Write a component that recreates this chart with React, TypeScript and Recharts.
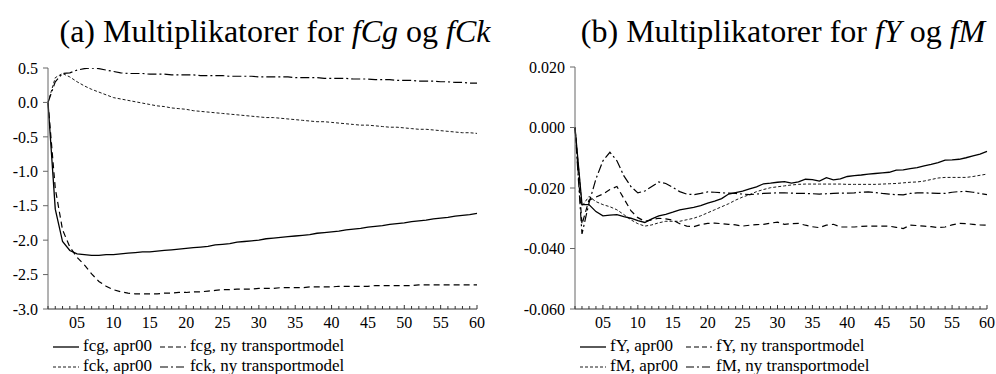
import { LineChart, Line, XAxis, YAxis } from 'recharts';

const periods = [
  1, 2, 3, 4, 5, 6, 7, 8, 9, 10, 11, 12, 13, 14, 15, 16, 17, 18, 19, 20,
  21, 22, 23, 24, 25, 26, 27, 28, 29, 30, 31, 32, 33, 34, 35, 36, 37, 38, 39, 40,
  41, 42, 43, 44, 45, 46, 47, 48, 49, 50, 51, 52, 53, 54, 55, 56, 57, 58, 59, 60,
];
const xTickLabels = ['05', '10', '15', '20', '25', '30', '35', '40', '45', '50', '55', '60'];
const leftTicks = [0.5, 0, -0.5, -1, -1.5, -2, -2.5, -3];
const rightTicks = [0.02, 0, -0.02, -0.04, -0.06];

// (a) fCg / fCk
const fcgApr = [
  0, -1.55, -2.02, -2.15, -2.2, -2.21, -2.22, -2.22, -2.21, -2.21,
  -2.2, -2.19, -2.18, -2.17, -2.17, -2.16, -2.15, -2.14, -2.13, -2.12,
  -2.11, -2.1, -2.09, -2.07, -2.06, -2.05, -2.03, -2.02, -2.01, -2.0,
  -1.98, -1.97, -1.96, -1.95, -1.94, -1.93, -1.92, -1.9, -1.89, -1.88,
  -1.87, -1.85, -1.84, -1.83, -1.81, -1.8, -1.79, -1.77, -1.76, -1.75,
  -1.73, -1.72, -1.71, -1.69, -1.68, -1.67, -1.65, -1.64, -1.63, -1.61,
];
const fcgNy = [
  0, -1.25, -1.85, -2.1, -2.25, -2.36, -2.49, -2.6, -2.67, -2.72,
  -2.75, -2.77, -2.78, -2.78, -2.78, -2.78, -2.77, -2.77, -2.76, -2.76,
  -2.75, -2.75, -2.74, -2.73, -2.72, -2.72, -2.71, -2.71, -2.71, -2.7,
  -2.7, -2.7, -2.69, -2.69, -2.69, -2.69, -2.68, -2.68, -2.68, -2.68,
  -2.67, -2.67, -2.67, -2.67, -2.67, -2.66, -2.66, -2.66, -2.66, -2.66,
  -2.66, -2.65, -2.65, -2.65, -2.65, -2.65, -2.65, -2.65, -2.65, -2.65,
];
const fckApr = [
  0, 0.36, 0.42, 0.37, 0.3, 0.24, 0.19, 0.15, 0.11, 0.07,
  0.05, 0.03, 0.01, -0.01, -0.03, -0.05, -0.06, -0.08, -0.09, -0.1,
  -0.12, -0.13, -0.14, -0.15, -0.16, -0.17, -0.18, -0.19, -0.2, -0.21,
  -0.22, -0.22, -0.23, -0.24, -0.25, -0.26, -0.27, -0.28, -0.28, -0.29,
  -0.3, -0.31, -0.32, -0.33, -0.33, -0.34, -0.35, -0.36, -0.36, -0.37,
  -0.38, -0.39, -0.39, -0.4, -0.41, -0.42, -0.43, -0.44, -0.44, -0.45,
];
const fckNy = [
  0, 0.3, 0.42, 0.43, 0.47, 0.49, 0.5, 0.49, 0.47, 0.45,
  0.43, 0.42, 0.42, 0.42, 0.41, 0.41, 0.41, 0.4, 0.4, 0.4,
  0.4, 0.39, 0.39, 0.39, 0.39, 0.38, 0.38, 0.38, 0.38, 0.37,
  0.37, 0.37, 0.37, 0.37, 0.36, 0.36, 0.36, 0.36, 0.35, 0.35,
  0.35, 0.35, 0.34, 0.34, 0.34, 0.33, 0.33, 0.33, 0.32, 0.32,
  0.32, 0.31, 0.31, 0.31, 0.3, 0.3, 0.29, 0.29, 0.28, 0.28,
];

// (b) fY / fM
const fYApr = [
  0, -0.0255, -0.0255, -0.0278, -0.0292, -0.029, -0.0288, -0.0295, -0.03, -0.0308,
  -0.0314, -0.0302, -0.0292, -0.0287, -0.028, -0.0272, -0.0268, -0.0264, -0.0258, -0.025,
  -0.0243, -0.0235, -0.022, -0.0215, -0.021, -0.0203, -0.0196, -0.0186, -0.0184, -0.0181,
  -0.0179, -0.0184, -0.018, -0.0171, -0.0172, -0.0177, -0.0166, -0.0173, -0.017, -0.0162,
  -0.0159, -0.0157, -0.0154, -0.0152, -0.015, -0.0148, -0.0141, -0.014, -0.0136, -0.0133,
  -0.0127, -0.0122, -0.0116, -0.0108, -0.0107, -0.0105, -0.01, -0.0094, -0.0088, -0.0079,
];
const fYNy = [
  0, -0.032, -0.024, -0.023, -0.022, -0.0205, -0.0195, -0.0235, -0.0275, -0.0298,
  -0.031, -0.0305, -0.03, -0.0302, -0.0306, -0.0318, -0.0326, -0.0328, -0.0321, -0.0317,
  -0.0316, -0.0318, -0.032, -0.0322, -0.0326, -0.0323, -0.0321, -0.032, -0.0316, -0.0313,
  -0.032, -0.0318, -0.0317, -0.0323, -0.0328, -0.0331, -0.0323, -0.032, -0.0329, -0.0329,
  -0.0329, -0.0327, -0.0326, -0.0326, -0.0326, -0.0326, -0.033, -0.0334, -0.0323, -0.0324,
  -0.0326, -0.0328, -0.0331, -0.0329, -0.0322, -0.0317, -0.0318, -0.032, -0.0322, -0.0323,
];
const fMApr = [
  0, -0.026, -0.0228, -0.0245, -0.0255, -0.0262, -0.0272, -0.0288, -0.0305, -0.0318,
  -0.0326, -0.0322, -0.0315, -0.031, -0.031, -0.031, -0.0305, -0.03, -0.0292, -0.0282,
  -0.0272, -0.0262, -0.0252, -0.024, -0.023, -0.0222, -0.0212, -0.0205, -0.0199, -0.0196,
  -0.0193, -0.019, -0.0188, -0.0187, -0.0187, -0.0187, -0.0187, -0.0187, -0.0187, -0.0188,
  -0.0188, -0.0188, -0.0188, -0.0188, -0.0187, -0.0186, -0.0185, -0.0183, -0.0181, -0.018,
  -0.0177, -0.0172, -0.0167, -0.0165, -0.0165, -0.0165, -0.0165, -0.0162, -0.0158, -0.0154,
];
const fMNy = [
  0, -0.0352, -0.025, -0.017, -0.011, -0.0082, -0.011, -0.016, -0.0195, -0.0216,
  -0.021, -0.0195, -0.018, -0.0185, -0.0198, -0.0212, -0.022, -0.0222, -0.0218, -0.0213,
  -0.0214, -0.0216, -0.0217, -0.0218, -0.022, -0.0222, -0.022, -0.0218, -0.0217, -0.0216,
  -0.0216, -0.0217, -0.0218, -0.0218, -0.0219, -0.022, -0.0219, -0.0218, -0.0217, -0.0217,
  -0.0216, -0.0214, -0.0213, -0.0215, -0.0218, -0.022, -0.0222, -0.0223, -0.0218, -0.0216,
  -0.0216, -0.0217, -0.0218, -0.0218, -0.0214, -0.0212, -0.0211, -0.0214, -0.0218, -0.0222,
];

const FONT = 'Liberation Serif';
const fontCss = '#root, #root * { font-family: "Liberation Serif" !important; }';

const lineStyles: Record<string, { dash?: string; width: number; legendDash?: string }> = {
  solid: { width: 1.3 },
  long: { dash: '6 4', width: 1.2, legendDash: '5 3' },
  short: { dash: '3 2', width: 0.9, legendDash: '3 2' },
  dashdot: { dash: '9 3 2 3', width: 1.2, legendDash: '8 3 2 3' },
};

const leftSeries = [
  { key: 'fcgApr', name: 'fcg, apr00', style: 'solid', values: fcgApr },
  { key: 'fcgNy', name: 'fcg, ny transportmodel', style: 'long', values: fcgNy },
  { key: 'fckApr', name: 'fck, apr00', style: 'short', values: fckApr },
  { key: 'fckNy', name: 'fck, ny transportmodel', style: 'dashdot', values: fckNy },
];
const rightSeries = [
  { key: 'fYApr', name: 'fY, apr00', style: 'solid', values: fYApr },
  { key: 'fYNy', name: 'fY, ny transportmodel', style: 'long', values: fYNy },
  { key: 'fMApr', name: 'fM, apr00', style: 'short', values: fMApr },
  { key: 'fMNy', name: 'fM, ny transportmodel', style: 'dashdot', values: fMNy },
];

function buildRows(series: typeof leftSeries) {
  return periods.map((p, i) => {
    const row: Record<string, number> = { p };
    series.forEach((s) => (row[s.key] = s.values[i]));
    return row;
  });
}

function PeriodTick(props: any) {
  const { x, y, payload } = props;
  const v = payload.value;
  const major = v % 5 === 0;
  return (
    <g>
      <line x1={x} x2={x} y1={y} y2={y - (major ? 4 : 3)} stroke="#333" strokeWidth={1} />
      {major && (
        <text x={x} y={y + 19} textAnchor="middle" fontSize={16} fontFamily={FONT} fill="#000">
          {xTickLabels[v / 5 - 1]}
        </text>
      )}
    </g>
  );
}

function Legend2({ series, left }: { series: typeof leftSeries; left: number }) {
  return (
    <div
      style={{
        position: 'absolute',
        left,
        top: 336,
        display: 'grid',
        gridTemplateColumns: 'auto auto',
        columnGap: 8,
        fontFamily: FONT,
        fontSize: 17,
        lineHeight: '20px',
        color: '#000',
        whiteSpace: 'nowrap',
      }}
    >
      {series.map((s) => {
        const st = lineStyles[s.style];
        return (
          <div key={s.key} style={{ display: 'flex', alignItems: 'center' }}>
            <svg width={26} height={20} style={{ marginRight: 4 }}>
              <line x1={0} x2={26} y1={11} y2={11} stroke="#000" strokeWidth={st.width} strokeDasharray={st.legendDash} />
            </svg>
            <span>{s.name}</span>
          </div>
        );
      })}
    </div>
  );
}

function Panel({
  series,
  ticks,
  domain,
  digits,
  yWidth,
  marginTop,
  marginRight,
}: {
  series: typeof leftSeries;
  ticks: number[];
  domain: [number, number];
  digits: number;
  yWidth: number;
  marginTop: number;
  marginRight: number;
}) {
  const rows = buildRows(series);
  return (
    <LineChart
      width={498}
      height={374}
      data={rows}
      margin={{ top: marginTop, right: marginRight, bottom: 35, left: 0 }}
    >
      <XAxis
        dataKey="p"
        type="number"
        domain={[1, 60]}
        ticks={periods}
        interval={0}
        height={30}
        tickSize={0}
        tickMargin={0}
        tickLine={false}
        axisLine={{ stroke: '#333' }}
        tick={<PeriodTick />}
      />
      <YAxis
        type="number"
        domain={domain}
        ticks={ticks}
        interval={0}
        width={yWidth}
        tickSize={5}
        tickMargin={5}
        axisLine={{ stroke: '#666' }}
        tickLine={{ stroke: '#666' }}
        tick={{ fontSize: 16, fill: '#000', fontFamily: FONT }}
        tickFormatter={(v: number) => v.toFixed(digits)}
        allowDataOverflow
      />
      {series.map((s) => {
        const st = lineStyles[s.style];
        return (
          <Line
            key={s.key}
            type="linear"
            dataKey={s.key}
            name={s.name}
            stroke="#000"
            strokeWidth={st.width}
            strokeDasharray={st.dash}
            dot={false}
            isAnimationActive={false}
          />
        );
      })}
    </LineChart>
  );
}

export default function App() {
  return (
    <div style={{ position: 'absolute', left: 0, top: 0, width: 996, height: 374, background: '#fff', fontFamily: FONT }}>
      <style>{fontCss}</style>
      <div style={{ position: 'absolute', left: 0, top: 0 }}>
        <Panel series={leftSeries} ticks={leftTicks} domain={[-3, 0.5]} digits={1} yWidth={48} marginTop={68} marginRight={21} />
      </div>
      <div style={{ position: 'absolute', left: 498, top: 0 }}>
        <Panel series={rightSeries} ticks={rightTicks} domain={[-0.06, 0.02]} digits={3} yWidth={77} marginTop={67} marginRight={9} />
      </div>
      <Legend2 series={leftSeries} left={53} />
      <Legend2 series={rightSeries} left={580} />
      <svg width={996} height={60} style={{ position: 'absolute', left: 0, top: 0 }}>
        <text x={275} y={42} textAnchor="middle" fontSize={32} fontFamily={FONT} fill="#000">
          (a) Multiplikatorer for <tspan fontStyle="italic">fCg</tspan> og <tspan fontStyle="italic">fCk</tspan>
        </text>
        <text x={783} y={42} textAnchor="middle" fontSize={32} fontFamily={FONT} fill="#000">
          (b) Multiplikatorer for <tspan fontStyle="italic">fY</tspan> og <tspan fontStyle="italic">fM</tspan>
        </text>
      </svg>
    </div>
  );
}
